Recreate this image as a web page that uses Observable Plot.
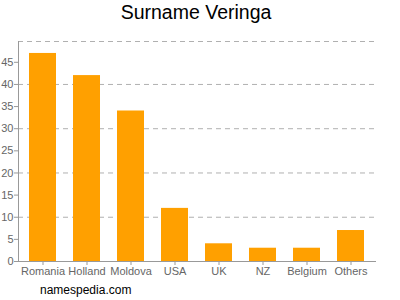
<!DOCTYPE html>
<html>
<head>
<meta charset="utf-8">
<script src="https://cdn.jsdelivr.net/npm/d3@7"></script>
<script src="https://cdn.jsdelivr.net/npm/@observablehq/plot@0.6"></script>
<style>
  body { margin: 0; background: #fff; }
  #wrap { position: relative; width: 400px; height: 300px; font-family: "Liberation Sans", Arial, sans-serif; }
  #title { position: absolute; top: 1px; left: 0; width: 392px; text-align: center; font-size: 19.5px; color: #000; }
  #caption { position: absolute; top: 283px; left: 40px; font-size: 12px; color: #000; }
  #chart { position: absolute; top: 0; left: 0; }
</style>
</head>
<body>
<div id="wrap">
  <div id="chart"></div>
  <div id="title">Surname Veringa</div>
  <div id="caption">namespedia.com</div>
</div>
<script>
const countries = ["Romania", "Holland", "Moldova", "USA", "UK", "NZ", "Belgium", "Others"];
const counts = [47, 42, 34, 12, 4, 3, 3, 7];
const yLabelTicks = [0, 5, 10, 15, 20, 25, 30, 35, 40, 45];
const gridTicks = [10, 20, 30, 40];
const yMax = 49.7;

const data = countries.map((c, i) => ({country: c, count: counts[i]}));

const chart = Plot.plot({
  width: 400,
  height: 300,
  marginLeft: 18,
  marginRight: 24,
  marginTop: 41,
  marginBottom: 39,
  style: {fontFamily: "Liberation Sans, Arial, sans-serif", fontSize: "11px", background: "transparent"},
  x: {domain: countries, paddingInner: 0.38, paddingOuter: 0.19, label: null},
  y: {domain: [0, yMax], label: null},
  marks: [
    Plot.ruleY(gridTicks.concat([yMax]), {stroke: "#b0b0b0", strokeDasharray: "5,4", strokeWidth: 1}),
    Plot.barY(data, {x: "country", y: "count", fill: "#ffa000"}),
    Plot.ruleY([0], {stroke: "#999"}),
    Plot.frame({anchor: "left", stroke: "#999"}),
    Plot.axisY(yLabelTicks, {tickSize: 4, tickPadding: 1, stroke: "#999", fill: "#666", label: null}),
    Plot.axisX({tickSize: 4, tickPadding: 2, stroke: "#999", fill: "#666", label: null})
  ]
});
document.getElementById("chart").appendChild(chart);
</script>
</body>
</html>
